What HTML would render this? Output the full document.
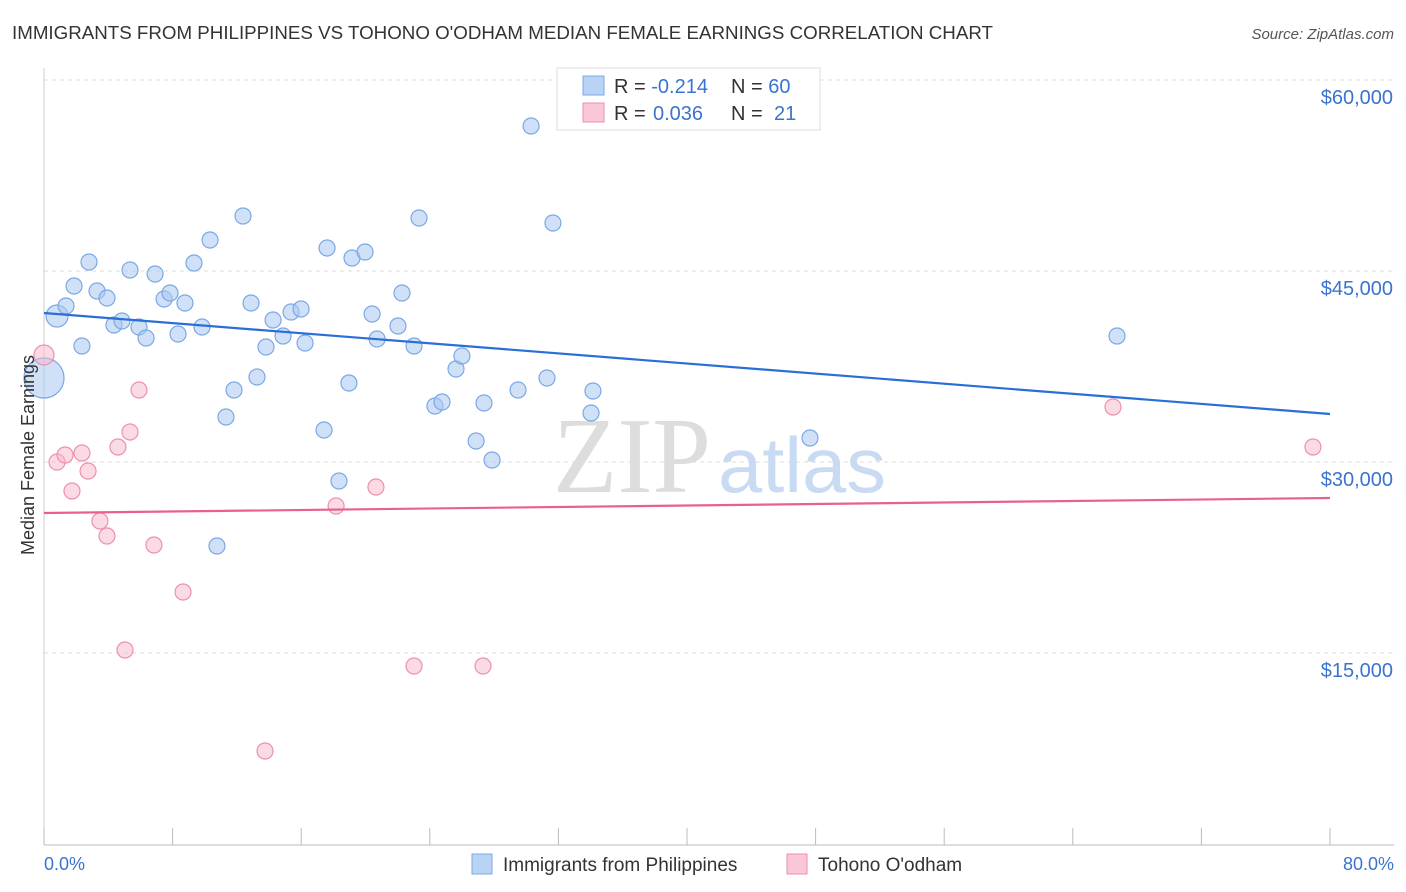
<!DOCTYPE html>
<html><head><meta charset="utf-8"><style>
body{margin:0;background:#fff;font-family:"Liberation Sans",sans-serif;}
svg{display:block}
</style></head><body>
<svg id="chart" width="1406" height="892">
<text x="12" y="39" font-size="18" fill="#333" textLength="981" lengthAdjust="spacingAndGlyphs">IMMIGRANTS FROM PHILIPPINES VS TOHONO O'ODHAM MEDIAN FEMALE EARNINGS CORRELATION CHART</text>
<text x="1394" y="39" font-size="15" fill="#555" font-style="italic" text-anchor="end">Source: ZipAtlas.com</text>
<g id="grid"></g>
<text x="553" y="492" font-size="108" fill="#ddd" font-family="Liberation Serif,serif" textLength="158" lengthAdjust="spacingAndGlyphs">ZIP</text>
<text x="718" y="492" font-size="78" fill="#c9daf3" textLength="168" lengthAdjust="spacingAndGlyphs">atlas</text>
<line x1="44" y1="845" x2="1394" y2="845" stroke="#bbb"/>
<line x1="44" y1="68" x2="44" y2="845" stroke="#ccc"/>
<g id="ticks"></g>
<g id="marks"></g>
<text x="34" y="455" font-size="18" fill="#333" text-anchor="middle" transform="rotate(-90 34 455)">Median Female Earnings</text>
<text x="44" y="870" font-size="18" fill="#3a74d0">0.0%</text>
<text x="1394" y="870" font-size="18" fill="#3a74d0" text-anchor="end">80.0%</text>
<g>
<rect x="557" y="68" width="263" height="62" fill="#fff" stroke="#ddd"/>
<rect x="583" y="76" width="21" height="19" fill="#b9d3f5" stroke="#7aa8e6"/>
<rect x="583" y="103" width="21" height="19" fill="#f9c7d6" stroke="#ee8fae"/>
<text x="614" y="93" font-size="20" fill="#333">R = <tspan fill="#3a74d0">-0.214</tspan><tspan x="731">N = </tspan><tspan fill="#3a74d0">60</tspan></text>
<text x="614" y="120" font-size="20" fill="#333">R = <tspan fill="#3a74d0" x="653">0.036</tspan><tspan x="731">N = </tspan><tspan fill="#3a74d0" x="774">21</tspan></text>
</g>
<g>
<rect x="472" y="854" width="20" height="20" fill="#b9d3f5" stroke="#7aa8e6"/>
<text x="503" y="871" font-size="19" fill="#333">Immigrants from Philippines</text>
<rect x="787" y="854" width="20" height="20" fill="#f9c7d6" stroke="#ee8fae"/>
<text x="818" y="871" font-size="19" fill="#333">Tohono O'odham</text>
</g>
</svg>
<script>
const yTicks=[15000,30000,45000,60000];
const yTickLabels=["$15,000","$30,000","$45,000","$60,000"];
const xTicks=[0,8,16,24,32,40,48,56,64,72,80];
const blueX=[0.81,0,1.37,1.87,2.80,3.30,3.92,2.36,4.35,4.85,5.35,5.91,6.35,6.91,7.47,7.84,8.34,8.77,9.33,9.83,10.33,10.76,11.32,11.82,12.38,12.88,13.25,13.81,14.25,14.87,15.37,15.99,16.24,17.42,17.61,18.35,18.97,19.16,19.97,20.41,20.72,22.02,22.27,23.02,23.33,24.32,24.76,25.63,26.00,26.88,27.37,27.87,29.49,30.30,31.29,31.66,34.03,34.15,47.65,66.75];
const blueY=[41466,36597,42251,43822,45707,43429,42880,39110,40759,41073,45078,40602,39738,44764,42801,43272,40052,42487,45628,40602,47434,23403,33534,35654,49319,42487,36675,39031,41152,39895,41780,42016,39346,32513,46806,28508,36204,46021,46492,41623,39660,40681,43272,39110,49162,34398,34712,37304,38325,31649,34634,30157,35654,56387,36597,48770,33848,35576,31885,39895];
const blueR=[11,20];
const pinkX=[0,0.81,1.31,1.74,2.36,2.74,3.48,3.92,4.60,5.04,5.35,5.91,6.84,8.65,13.75,18.17,20.65,23.02,27.31,66.50,78.94];
const pinkY=[38403,30000,30550,27722,30707,29293,25366,24188,31178,15236,32356,35654,23482,19791,7304,26544,28037,13979,13979,34319,31178];
const blueTrend=[41700,33770];
const pinkTrend=[25995,27173];
const NS="http://www.w3.org/2000/svg";
const xs=v=>44+v*(1286/80);
const ys=v=>844-v*191/15000;
function mk(tag,attrs,parent){const e=document.createElementNS(NS,tag);for(const k in attrs)e.setAttribute(k,attrs[k]);parent.appendChild(e);return e;}
const grid=document.getElementById('grid'),ticks=document.getElementById('ticks'),marks=document.getElementById('marks');
yTicks.forEach((t,i)=>{
 const l=mk('line',{x1:44,x2:1394,y1:ys(t),y2:ys(t),stroke:'#ddd','stroke-dasharray':'4,4'},grid);
 
 
 const tx=mk('text',{x:1393,y:ys(t)+24,'font-size':20,fill:'#3a74d0','text-anchor':'end'},ticks);
 tx.textContent=yTickLabels[i];
 
 
});
xTicks.forEach(t=>{
 const l=mk('line',{x1:xs(t),x2:xs(t),y1:828,y2:845,stroke:'#bbb'},ticks);
 
 
});
blueX.forEach((x,i)=>{
 const c=mk('circle',{cx:xs(x),cy:ys(blueY[i]),r:blueR[i]||8,fill:'rgba(169,200,240,0.55)',stroke:'#7aa8e6','stroke-width':1.2},marks);
 
 
});
pinkX.forEach((x,i)=>{
 const c=mk('circle',{cx:xs(x),cy:ys(pinkY[i]),r:i===0?10:8,fill:'rgba(246,184,202,0.5)',stroke:'#ee8fae','stroke-width':1.2},marks);
 
 
});
const bl=mk('line',{x1:xs(0),y1:ys(blueTrend[0]),x2:xs(80),y2:ys(blueTrend[1]),stroke:'#2a6fd6','stroke-width':2.2},marks);


const pl=mk('line',{x1:xs(0),y1:ys(pinkTrend[0]),x2:xs(80),y2:ys(pinkTrend[1]),stroke:'#e8608f','stroke-width':2.2},marks);


</script>
</body></html>
